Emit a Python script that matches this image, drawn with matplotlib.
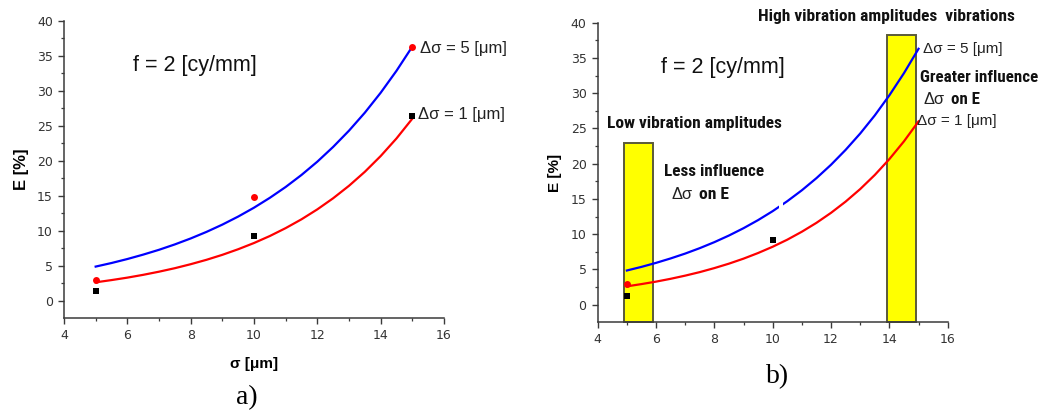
import numpy as np
import matplotlib
matplotlib.use("Agg")
import matplotlib.pyplot as plt
from matplotlib.patches import Rectangle
from matplotlib import font_manager

# ---- data -------------------------------------------------------------
# fitted curves E(sigma) sampled along sigma
sigma_grid = [5.0, 5.5, 6.0, 6.5, 7.0, 7.5, 8.0, 8.5, 9.0, 9.5, 10.0,
              10.5, 11.0, 11.5, 12.0, 12.5, 13.0, 13.5, 14.0, 14.5, 15.0]
fit_ds5 = [4.85, 5.36, 5.93, 6.56, 7.25, 8.02, 8.87, 9.81, 10.85, 12.00, 13.27,
           14.68, 16.23, 17.95, 19.85, 21.96, 24.28, 26.85, 29.70, 32.84, 36.30]
fit_ds1 = [2.60, 2.92, 3.27, 3.67, 4.12, 4.62, 5.19, 5.82, 6.53, 7.33, 8.22,
           9.22, 10.35, 11.61, 13.03, 14.62, 16.40, 18.40, 20.65, 23.17, 26.00]

# measured points
sigma_pts = [5, 10, 15]
meas_ds5 = [2.9, 14.8, 36.2]
meas_ds1 = [1.3, 9.2, 26.4]

# points shown on the second panel
b_ds5_idx = [0]
b_ds1_idx = [0, 1]

# highlighted sigma bands: (start, end, top of bar)
low_band = (4.9, 5.9, 23.0)
high_band = (13.93, 14.92, 38.3)

x_ticks = [4, 6, 8, 10, 12, 14, 16]
y_ticks = [0, 5, 10, 15, 20, 25, 30, 35, 40]
x_lim = (4, 16)
y_lim = (-2.5, 40)

# ---- fonts ------------------------------------------------------------
def has_font(name):
    try:
        font_manager.findfont(font_manager.FontProperties(family=name),
                              fallback_to_default=False)
        return True
    except Exception:
        return False

def first_font(names, default):
    for n in names:
        if has_font(n):
            return n
    return default

SANS = first_font(["Liberation Sans"], "DejaVu Sans")
NARROW = first_font(["Liberation Sans Narrow", "Roboto Condensed",
                     "Open Sans Condensed", "Roboto"], SANS)
SERIF = first_font(["Liberation Serif"], "DejaVu Serif")
TICKFONT = "DejaVu Sans"

W, H = 1045, 415
fig = plt.figure(figsize=(W / 100, H / 100), dpi=100)
fig.patch.set_facecolor("white")
renderer = fig.canvas.get_renderer()

def put(x, y, s, width=None, **kw):
    kw.setdefault("va", "center")
    kw.setdefault("ha", "left")
    t = fig.text(x / W, 1 - y / H, s, **kw)
    if width is not None:
        # scale the font so the label spans the requested pixel width
        w = t.get_window_extent(renderer).width
        t.set_fontsize(t.get_fontsize() * width / w)
    return t

AX_COLOR = "#3a3a3a"

def style_axes(ax):
    ax.set_xlim(*x_lim)
    ax.set_ylim(*y_lim)
    ax.set_facecolor("none")
    for side in ("top", "right"):
        ax.spines[side].set_visible(False)
    for side in ("left", "bottom"):
        ax.spines[side].set_color(AX_COLOR)
        ax.spines[side].set_linewidth(1.1)
    ax.set_xticks(x_ticks)
    ax.set_yticks(y_ticks)
    ax.set_xticks(np.arange(5, 16, 2), minor=True)
    ax.set_yticks(np.arange(2.5, 40, 5), minor=True)
    ax.tick_params(which="major", direction="out", length=4, width=1.0,
                   color=AX_COLOR, labelcolor="#333333", labelsize=9)
    ax.tick_params(axis="x", which="major", pad=4)
    ax.tick_params(axis="y", which="major", pad=4)
    ax.tick_params(which="minor", direction="out", length=2.5, width=0.9,
                   color=AX_COLOR)
    for lab in ax.get_xticklabels() + ax.get_yticklabels():
        lab.set_fontfamily(TICKFONT)

# ---- panel a ----------------------------------------------------------
ax_a = fig.add_axes([64 / W, 1 - 318 / H, 380 / W, (318 - 20.7) / H])
style_axes(ax_a)
ax_a.plot(sigma_grid, fit_ds5, color="#0000ff", lw=1.6, zorder=3)
ax_a.plot(sigma_grid, fit_ds1, color="#ff0000", lw=1.6, zorder=3)
ax_a.plot(sigma_pts, meas_ds5, "o", color="#ff0000", ms=5, mew=0, zorder=4)
ax_a.plot(sigma_pts, meas_ds1, "s", color="#000000", ms=4.5, mew=0, zorder=4)
ax_a.set_xlabel("σ [μm]", fontsize=11, fontweight="bold", family=SANS, labelpad=11)
ax_a.set_ylabel("E [%]", fontsize=12, fontweight="bold", family=SANS, labelpad=6)

put(133, 65, "f = 2 [cy/mm]", fontsize=15.5, family=SANS, color="#111111")
put(420, 48, "Δσ = 5 [μm]", fontsize=12, family=SANS, color="#222222")
put(418, 115, "Δσ = 1 [μm]", fontsize=12, family=SANS, color="#222222")
put(247, 398, "a)", fontsize=20, family=SERIF, ha="center")

# ---- panel b ----------------------------------------------------------
ax_b = fig.add_axes([597.7 / W, 1 - 322.3 / H, 350 / W, (322.3 - 22.7) / H])
style_axes(ax_b)
for x0, x1, top in (low_band, high_band):
    ax_b.add_patch(Rectangle((x0, y_lim[0]), x1 - x0, top - y_lim[0],
                             facecolor="#ffff00", edgecolor="#5a5a3a",
                             lw=1.4, zorder=2, clip_on=False))
ax_b.plot(sigma_grid, fit_ds5, color="#0000ff", lw=1.6, zorder=3)
ax_b.plot(sigma_grid, fit_ds1, color="#ff0000", lw=1.6, zorder=3)
# small break in the upper curve
ax_b.add_patch(Rectangle((10.2, 12.0), 0.15, 4.0, facecolor="white",
                         edgecolor="none", zorder=3.5))
ax_b.plot([sigma_pts[i] for i in b_ds5_idx], [meas_ds5[i] for i in b_ds5_idx],
          "o", color="#ff0000", ms=5, mew=0, zorder=4)
ax_b.plot([sigma_pts[i] for i in b_ds1_idx], [meas_ds1[i] for i in b_ds1_idx],
          "s", color="#000000", ms=4.5, mew=0, zorder=4)
ax_b.set_ylabel("E [%]", fontsize=11, fontweight="bold", family=SANS, labelpad=6)

bold = dict(fontsize=12, fontweight="bold", family=NARROW, color="#111111")
sym = dict(fontsize=13, family=SANS, color="#222222")
put(661, 68, "f = 2 [cy/mm]", fontsize=15.5, family=SANS, color="#111111")
put(758, 17, "High vibration amplitudes  vibrations", width=257, **bold)
put(607, 123, "Low vibration amplitudes", width=175, **bold)
put(664, 171, "Less influence", width=100, **bold)
put(672, 194, "Δσ", width=21, **sym)
put(699, 194, "on E", width=30, **bold)
put(923, 49, "Δσ = 5 [μm]", fontsize=11, family=SANS, color="#222222")
put(920, 78, "Greater influence", width=118, **bold)
put(923, 99, "Δσ", width=21, **sym)
put(951, 99, "on E", width=29, **bold)
put(917, 121, "Δσ = 1 [μm]", fontsize=11, family=SANS, color="#222222")
put(778, 377, "b)", fontsize=20, family=SERIF, ha="center")

fig.savefig("out.png", dpi=100, facecolor="white")
